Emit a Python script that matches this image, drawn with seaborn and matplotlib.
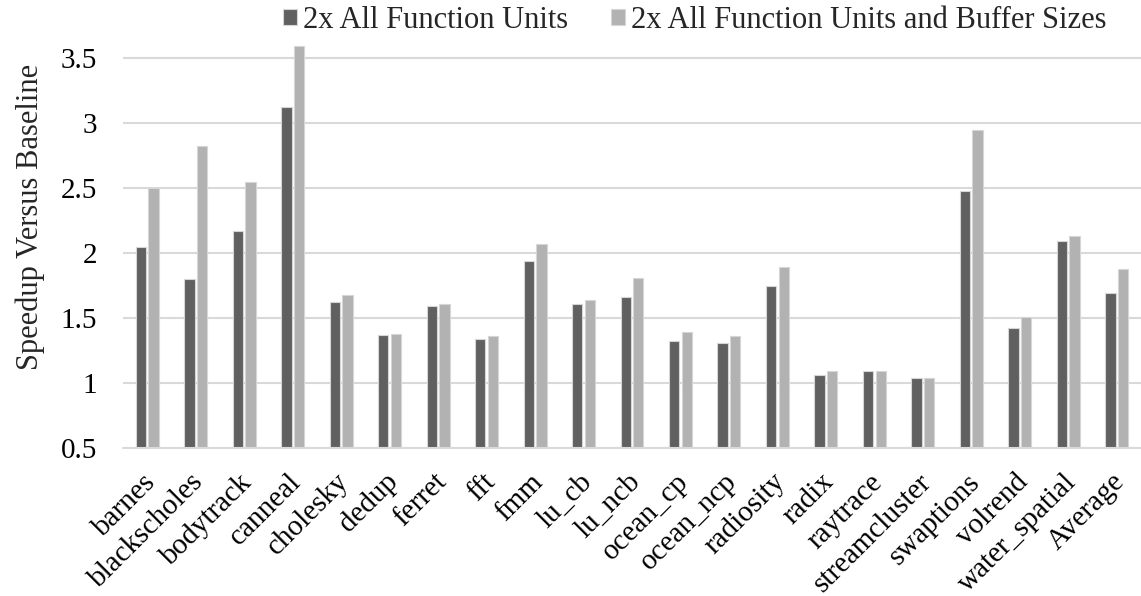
import matplotlib
matplotlib.use("Agg")
import matplotlib.pyplot as plt
import matplotlib.transforms as mtransforms
import pandas as pd
import seaborn as sns

# Benchmarks (SPLASH-2 / PARSEC) and measured speedups over the baseline core
benchmarks = [
    "barnes", "blackscholes", "bodytrack", "canneal", "cholesky", "dedup",
    "ferret", "fft", "fmm", "lu_cb", "lu_ncb", "ocean_cp", "ocean_ncp",
    "radiosity", "radix", "raytrace", "streamcluster", "swaptions",
    "volrend", "water_spatial", "Average",
]
speedup_fu = [
    2.05, 1.80, 2.17, 3.12, 1.62, 1.37, 1.59, 1.34, 1.94, 1.61, 1.66,
    1.32, 1.31, 1.75, 1.06, 1.09, 1.04, 2.48, 1.42, 2.09, 1.69,
]
speedup_fu_buf = [
    2.50, 2.82, 2.55, 3.59, 1.68, 1.38, 1.61, 1.36, 2.07, 1.64, 1.81,
    1.39, 1.36, 1.89, 1.09, 1.09, 1.04, 2.95, 1.51, 2.13, 1.88,
]
series_names = ["2x All Function Units", "2x All Function Units and Buffer Sizes"]
y_ticks = [0.5, 1, 1.5, 2, 2.5, 3, 3.5]
y_tick_labels = ["0.5", "1", "1.5", "2", "2.5", "3", "3.5"]

n = len(benchmarks)
df = pd.DataFrame({
    "benchmark": benchmarks * 2,
    "speedup": speedup_fu + speedup_fu_buf,
    "config": [series_names[0]] * n + [series_names[1]] * n,
})

sns.set_theme(style="white")
plt.rcParams["font.family"] = ["Liberation Serif", "DejaVu Serif"]
FS = 21
grid_color = "#d9d9d9"

W, H = 1141, 596
fig = plt.figure(figsize=(W / 100, H / 100), dpi=100)
ax = fig.add_axes([123 / W, (H - 448) / H, (W - 123) / W, (448 - 45) / H])

sns.barplot(
    data=df, x="benchmark", y="speedup", hue="config",
    palette=["#606060", "#b2b2b2"], width=0.52, gap=0.18,
    edgecolor="#d6d6d6", linewidth=0.8, ax=ax,
)

ax.set_ylim(0.5, 3.6)
ax.set_xlim(-0.5, n - 0.5)
ax.set_yticks(y_ticks)
ax.set_yticklabels(y_tick_labels)
ax.yaxis.grid(True, color=grid_color, linewidth=1.5)
ax.set_axisbelow(True)
ax.axhline(0.5, color=grid_color, linewidth=1.5, clip_on=False, zorder=3)
for s in ax.spines.values():
    s.set_visible(False)
ax.tick_params(axis="both", length=0, labelsize=FS, colors="black")
ax.tick_params(axis="y", pad=18.5)
ax.tick_params(axis="x", pad=15)

# rotated category labels, nudged slightly left of their tick
shift = mtransforms.ScaledTranslation(-5 / 100, 0, fig.dpi_scale_trans)
for lbl in ax.get_xticklabels():
    lbl.set_rotation(45)
    lbl.set_ha("right")
    lbl.set_va("top")
    lbl.set_rotation_mode("anchor")
    lbl.set_transform(lbl.get_transform() + shift)

ax.set_xlabel("")
ax.set_ylabel("Speedup Versus Baseline", fontsize=22)
ax.yaxis.set_label_coords((45 - 123) / 1018, (448 - 217) / 403)

handles, labels = ax.get_legend_handles_labels()
ax.legend(
    handles, labels, loc="upper left", bbox_to_anchor=(283 / W, 1 - 6 / H),
    bbox_transform=fig.transFigure, ncol=2, frameon=False, fontsize=22,
    handlelength=0.45, handleheight=0.45, handletextpad=0.2,
    columnspacing=1.4, borderpad=0, borderaxespad=0,
)

fig.savefig("out.png", dpi=100)
